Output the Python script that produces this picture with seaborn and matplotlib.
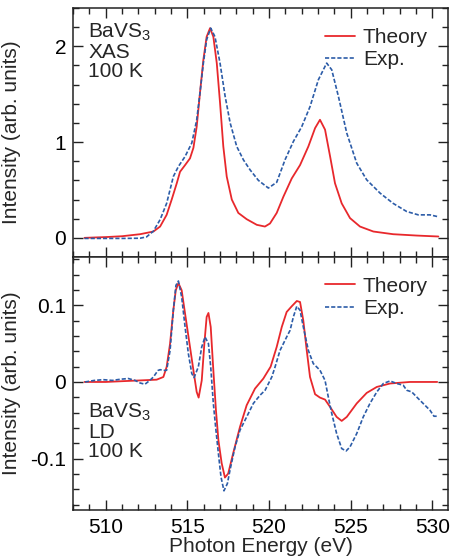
import numpy as np
import pandas as pd
import matplotlib
matplotlib.use("Agg")
import matplotlib.pyplot as plt
import seaborn as sns
from matplotlib.ticker import MultipleLocator, FixedLocator, FixedFormatter

# --- XAS (top panel) ---
xas_theory_e = [508.7, 510.0, 511.0, 512.1, 512.92, 513.33, 513.73, 514.04, 514.35, 514.55,
                514.86, 515.16, 515.37, 515.57, 515.77, 515.98, 516.18, 516.39, 516.59, 516.8,
                517.0, 517.2, 517.41, 517.72, 518.12, 518.63, 519.25, 519.75, 520.06, 520.47,
                520.88, 521.39, 521.9, 522.41, 522.82, 523.12, 523.43, 523.74, 524.04, 524.45,
                524.96, 525.57, 526.39, 527.6, 529.04, 530.37]
xas_theory_i = [0.0, 0.008, 0.017, 0.038, 0.066, 0.118, 0.24, 0.40, 0.57, 0.69,
                0.76, 0.83, 0.94, 1.16, 1.51, 1.86, 2.10, 2.19, 2.10, 1.825,
                1.41, 0.955, 0.64, 0.40, 0.26, 0.195, 0.136, 0.118, 0.15, 0.26,
                0.43, 0.62, 0.76, 0.955, 1.146, 1.233, 1.13, 0.85, 0.57, 0.36,
                0.206, 0.118, 0.066, 0.038, 0.024, 0.014]

xas_exp_e = [508.7, 510.0, 511.0, 512.1, 512.5, 512.92, 513.33, 513.73, 514.14, 514.45,
             514.86, 515.27, 515.57, 515.77, 515.98, 516.18, 516.43, 516.69, 517.0, 517.31,
             517.62, 518.02, 518.43, 518.84, 519.35, 519.96, 520.47, 520.98, 521.49, 522.0,
             522.51, 523.02, 523.53, 523.84, 524.25, 524.76, 525.37, 525.98, 526.8, 527.6,
             528.43, 529.14, 529.86, 530.37]
xas_exp_i = [-0.006, -0.006, -0.006, -0.004, 0.01, 0.07, 0.19, 0.36, 0.64, 0.745,
             0.85, 0.99, 1.23, 1.51, 1.825, 2.07, 2.19, 2.10, 1.825, 1.48,
             1.20, 0.955, 0.815, 0.71, 0.60, 0.52, 0.58, 0.815, 1.006, 1.16,
             1.37, 1.65, 1.825, 1.755, 1.476, 1.094, 0.78, 0.606, 0.467, 0.36,
             0.275, 0.24, 0.24, 0.22]

# --- LD (bottom panel) ---
ld_theory_e = [508.7, 510.0, 511.0, 512.1, 513.12, 513.53, 513.73, 513.94, 514.14, 514.29,
               514.45, 514.65, 514.86, 515.16, 515.37, 515.57, 515.69, 515.88, 516.04, 516.18,
               516.29, 516.43, 516.59, 516.75, 516.9, 517.1, 517.3, 517.5, 517.8, 518.22,
               518.63, 519.14, 519.65, 520.1, 520.47, 520.78, 521.08, 521.39, 521.7, 521.9,
               522.1, 522.31, 522.51, 522.82, 523.12, 523.43, 523.74, 524.14, 524.45, 524.76,
               525.37, 525.98, 526.6, 527.41, 528.63, 530.3]
ld_theory_i = [0.0, 0.0, 0.001, 0.002, 0.003, 0.0065, 0.0196, 0.050, 0.0935, 0.1196,
               0.129, 0.1196, 0.089, 0.0457, 0.0153, -0.013, -0.0204, 0.002, 0.050, 0.0848,
               0.090, 0.0717, 0.0153, -0.037, -0.076, -0.106, -0.1247, -0.1195, -0.0934, -0.0587,
               -0.0304, -0.0087, 0.0044, 0.02, 0.0457, 0.0717, 0.0913, 0.0987, 0.1056, 0.1043,
               0.080, 0.041, 0.0065, -0.016, -0.0204, -0.023, -0.0326, -0.0456, -0.0508, -0.0456,
               -0.028, -0.0143, -0.0065, -0.002, 0.0, 0.0]

ld_exp_e = [508.73, 509.3, 509.85, 510.4, 510.88, 511.38, 511.8, 512.1, 512.4, 512.7,
            512.92, 513.2, 513.33, 513.63, 513.73, 513.94, 514.14, 514.3, 514.45, 514.65,
            514.86, 515.06, 515.27, 515.41, 515.67, 515.88, 516.08, 516.29, 516.43, 516.59,
            516.75, 516.9, 517.06, 517.24, 517.45, 517.61, 517.92, 518.22, 518.63, 519.04,
            519.45, 519.76, 520.17, 520.37, 520.67, 521.08, 521.29, 521.49, 521.7, 521.9,
            522.1, 522.41, 522.71, 523.12, 523.43, 523.63, 523.84, 524.14, 524.45, 524.72,
            524.96, 525.37, 525.77, 526.18, 526.6, 527.0, 527.41, 527.82, 528.22, 528.43,
            528.74, 529.14, 529.55, 529.86, 530.1, 530.37]
ld_exp_i = [0.0, 0.002, 0.003, 0.002, 0.0035, 0.0045, 0.002, -0.0013, -0.003, 0.002,
            0.0065, 0.015, 0.016, 0.015, 0.0153, 0.041, 0.0935, 0.126, 0.1317, 0.111,
            0.0717, 0.037, 0.011, 0.0057, 0.0196, 0.0457, 0.0587, 0.050, 0.0196, -0.028,
            -0.063, -0.0934, -0.124, -0.142, -0.1325, -0.115, -0.0847, -0.063, -0.0456, -0.028,
            -0.0173, -0.0108, 0.0065, 0.0196, 0.041, 0.0587, 0.0674, 0.0848, 0.0987, 0.0935,
            0.0717, 0.041, 0.024, 0.0153, 0.002, -0.0196, -0.041, -0.0673, -0.0869, -0.090,
            -0.0847, -0.0673, -0.0456, -0.028, -0.013, -0.002, 0.0013, -0.002, -0.0043, -0.0108,
            -0.013, -0.0217, -0.0304, -0.037, -0.0447, -0.0447]

RED = "#e8282c"
BLUE = "#2c5ca8"

sns.set_style("ticks")
plt.rcParams["font.family"] = ["Liberation Sans", "DejaVu Sans"]
plt.rcParams["mathtext.fontset"] = "custom"
plt.rcParams["mathtext.rm"] = "Liberation Sans"
plt.rcParams["mathtext.it"] = "Liberation Sans"
FS = 15

fig = plt.figure(figsize=(4.51, 5.57), dpi=100)
ax1 = fig.add_axes([0.162, 0.5386, 0.831, 0.447])
ax2 = fig.add_axes([0.162, 0.0844, 0.831, 0.4542])


def draw(ax, e_th, i_th, e_ex, i_ex):
    th = pd.DataFrame({"E": e_th, "I": i_th})
    ex = pd.DataFrame({"E": e_ex, "I": i_ex})
    sns.lineplot(data=th, x="E", y="I", ax=ax, color=RED, lw=1.3, label="Theory")
    sns.lineplot(data=ex, x="E", y="I", ax=ax, color=BLUE, lw=1.2, label="Exp.",
                 dashes=False, linestyle=(0, (2.5, 1.2)))
    ax.set_xlim(508.0, 530.95)
    ax.xaxis.set_major_locator(MultipleLocator(5))
    ax.xaxis.set_minor_locator(MultipleLocator(1))
    ax.tick_params(which="both", direction="in", top=True, right=True,
                   labelsize=FS, width=1.0, color="#222222", labelcolor="black")
    ax.tick_params(which="major", length=7, pad=5)
    ax.tick_params(which="minor", length=4)
    for s in ax.spines.values():
        s.set_linewidth(1.1)
        s.set_color("#222222")
    ax.set_ylabel("Intensity (arb. units)", fontsize=FS)
    ax.yaxis.set_label_coords(-0.14, 0.5)
    ax.legend(loc="upper right", frameon=False, fontsize=FS, handlelength=1.4,
              handletextpad=0.4, labelspacing=0.15, borderaxespad=0.55)


draw(ax1, xas_theory_e, xas_theory_i, xas_exp_e, xas_exp_i)
ax1.set_ylim(-0.2, 2.4)
ax1.yaxis.set_major_locator(FixedLocator([0, 1, 2]))
ax1.yaxis.set_minor_locator(MultipleLocator(0.2))
ax1.set_xlabel("")
ax1.tick_params(axis="x", labelbottom=False)
ax1.text(0.04, 0.945, "BaVS$_3$\nXAS\n100 K", transform=ax1.transAxes, fontsize=FS,
         va="top", ha="left", linespacing=1.0)

draw(ax2, ld_theory_e, ld_theory_i, ld_exp_e, ld_exp_i)
ax2.set_ylim(-0.167, 0.163)
ax2.yaxis.set_major_locator(FixedLocator([-0.1, 0, 0.1]))
ax2.yaxis.set_major_formatter(FixedFormatter(["-0.1", "0", "0.1"]))
ax2.yaxis.set_minor_locator(MultipleLocator(0.02))
ax2.tick_params(axis="x", which="major", pad=6)
ax2.set_xlabel("Photon Energy (eV)", fontsize=FS, labelpad=0)
ax2.text(0.04, 0.43, "BaVS$_3$\nLD\n100 K", transform=ax2.transAxes, fontsize=FS,
         va="top", ha="left", linespacing=1.0)

fig.savefig("out.png", dpi=100)
